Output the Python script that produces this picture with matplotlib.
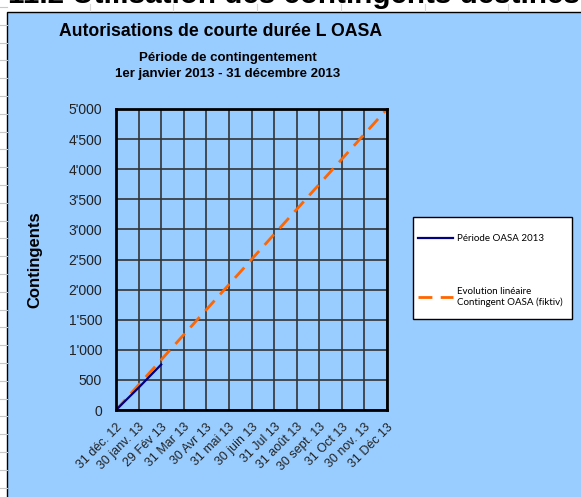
import numpy as np
import matplotlib
matplotlib.use("Agg")
import matplotlib.pyplot as plt
from matplotlib.patches import Rectangle
from matplotlib.lines import Line2D
from matplotlib.ticker import FuncFormatter

# data
dates = ["31 déc. 12", "30 janv. 13", "29 Fév 13", "31 Mar 13", "30 Avr 13",
         "31 mai 13", "30 juin 13", "31 Jul 13", "31 août 13", "30 sept. 13",
         "31 Oct 13", "30 nov. 13", "31 Déc 13"]
periode_2013 = [0, 370, 755]
evolution = [0, 417, 833, 1250, 1667, 2083, 2500, 2917, 3333, 3750, 4167, 4583, 5000]
yticks = [0, 500, 1000, 1500, 2000, 2500, 3000, 3500, 4000, 4500, 5000]

W, H = 581, 497
fig = plt.figure(figsize=(W / 100, H / 100), dpi=100)
fig.patch.set_facecolor("white")

# spreadsheet remains behind the chart
for yy in np.arange(7, H, 17.8):
    fig.add_artist(Line2D([0, 7 / W], [1 - yy / H, 1 - yy / H], color="#c8c8c8", lw=0.8))
for xx in [90, 173, 257, 341, 425, 508]:
    fig.add_artist(Line2D([xx / W, xx / W], [1 - 4 / H, 1 - 11 / H], color="#d8d8d8", lw=0.8))
top = fig.text(8 / W, 1 - 3 / H, "11.2 Utilisation des contingents destinés", fontsize=21.3,
               fontweight="bold", family="Liberation Sans", va="baseline", ha="left")
top.set_zorder(-1)

# chart area
fig.add_artist(Rectangle((7 / W, -0.01), 1, 1.01 - 11.5 / H, facecolor="#99ccff",
                         edgecolor="black", lw=1.0, transform=fig.transFigure, zorder=0))

ax = fig.add_axes([116 / W, 1 - 410 / H, 271 / W, 301 / H])
ax.set_facecolor("#99ccff")
x = np.arange(len(dates))
ax.plot(x[:len(periode_2013)], periode_2013, color="#000080", lw=1.6,
        label="Période OASA 2013", zorder=4)
ax.plot(x, evolution, color="#ff6600", lw=2, dashes=(5, 3),
        label="Evolution linéaire\nContingent OASA (fiktiv)", zorder=3)

ax.set_xlim(0, len(dates) - 1)
ax.set_ylim(0, 5000)
ax.set_xticks(x)
ax.set_xticklabels(dates, rotation=45, ha="right", rotation_mode="anchor",
                   fontsize=9, family="Liberation Sans", color="#222222")
ax.set_yticks(yticks)
ax.yaxis.set_major_formatter(FuncFormatter(lambda v, p: f"{int(v):,}".replace(",", "'")))
ax.tick_params(axis="y", length=0, pad=10, labelsize=10, labelcolor="#222222")
ax.tick_params(axis="x", length=0, pad=8)
for t in ax.get_yticklabels():
    t.set_family("Liberation Sans")
ax.grid(True, color="#333333", lw=1.2)
ax.set_axisbelow(True)
for s in ax.spines.values():
    s.set_linewidth(2)
    s.set_color("black")
    s.set_zorder(5)

fig.text(35 / W, 1 - 260 / H, "Contingents", rotation=90, ha="center", va="center",
         fontsize=12, fontweight="bold", family="Liberation Sans")
fig.text(221 / W, 1 - 31 / H, "Autorisations de courte durée L OASA", ha="center",
         va="center", fontsize=12.7, fontweight="bold", family="Liberation Sans")
fig.text(228 / W, 1 - 58 / H, "Période de contingentement", ha="center", va="center",
         fontsize=9.5, fontweight="bold", family="Liberation Sans")
fig.text(228 / W, 1 - 74 / H, "1er janvier 2013 - 31 décembre 2013", ha="center",
         va="center", fontsize=9.5, fontweight="bold", family="Liberation Sans")

# legend box
fig.add_artist(Rectangle((413 / W, 1 - 319 / H), 159 / W, 102 / H, facecolor="white",
                         edgecolor="black", lw=1.0, transform=fig.transFigure, zorder=1))
handles, labels = ax.get_legend_handles_labels()
leg = fig.legend(handles, labels, loc="upper left", bbox_to_anchor=(418 / W, 1 - 234 / H),
                 bbox_transform=fig.transFigure, frameon=False,
                 prop={"family": "Lato", "size": 7}, handlelength=3.6,
                 handletextpad=0.4, labelspacing=4.5, borderpad=0,
                 borderaxespad=0)
leg.set_zorder(6)

fig.savefig("out.png", dpi=100)
